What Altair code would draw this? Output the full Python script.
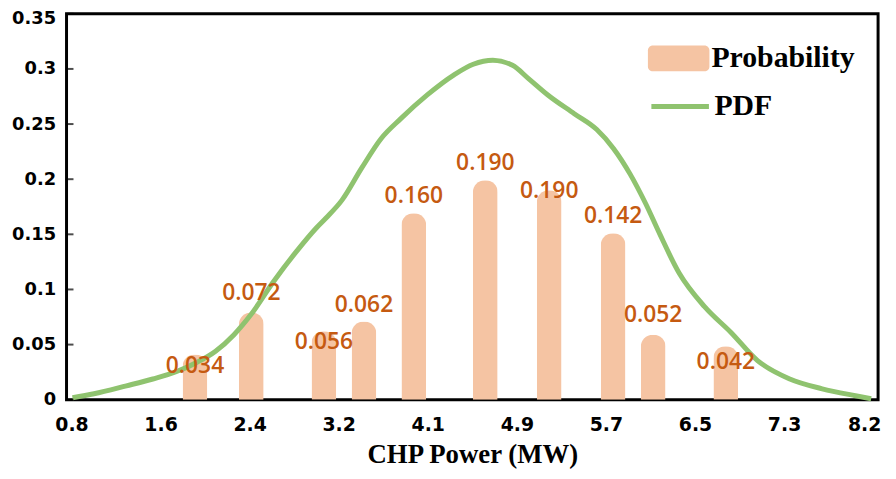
import json
import altair as alt
import pandas as pd

# ---- data ----
tick_labels = ["0.8", "1.6", "2.4", "3.2", "4.1", "4.9", "5.7", "6.5", "7.3", "8.2"]
x_min, x_max = 0.8, 8.2

bar_x = [1.94, 2.46, 3.13, 3.50, 3.96, 4.62, 5.21, 5.80, 6.17, 6.84]
bar_h = [0.041, 0.079, 0.062, 0.071, 0.169, 0.199, 0.190, 0.151, 0.059, 0.0485]
prob_labels = ["0.034", "0.072", "0.056", "0.062", "0.160", "0.190", "0.190", "0.142", "0.052", "0.042"]
label_y = [0.0305, 0.0969, 0.0521, 0.0862, 0.1849, 0.2145, 0.1894, 0.1669, 0.0772, 0.0341]

pdf_x = [0.809, 1.008, 1.307, 1.551, 1.759, 1.96, 2.13, 2.30, 2.455, 2.664, 2.881, 3.062,
         3.152, 3.297, 3.478, 3.659, 3.840, 4.084, 4.328, 4.509, 4.690, 4.871, 5.016, 5.197,
         5.441, 5.649, 5.803, 5.957, 6.101, 6.228, 6.409, 6.644, 6.888, 7.133, 7.431, 7.730,
         8.037, 8.182]
pdf_y = [0.0018, 0.0054, 0.0126, 0.0188, 0.0251, 0.0340, 0.0440, 0.0590, 0.0770, 0.1070, 0.1350, 0.1560,
         0.1650, 0.1810, 0.2100, 0.2369, 0.2549, 0.2764, 0.2944, 0.3042, 0.3078, 0.3033, 0.2915, 0.2764,
         0.2594, 0.2450, 0.2279, 0.2046, 0.1777, 0.1508, 0.1149, 0.0844, 0.0610, 0.0355, 0.0188, 0.0099,
         0.0036, 0.0009]

y_ticks = [0, 0.05, 0.1, 0.15, 0.2, 0.25, 0.3, 0.35]

# ---- tables ----
step = (x_max - x_min) / (len(tick_labels) - 1)
tick_values = [x_min + i * step for i in range(len(tick_labels))]

bars = pd.DataFrame({"x": bar_x, "h": bar_h, "lab": prob_labels, "ly": label_y,
                     "series": "Probability"})
pdf = pd.DataFrame({"x": pdf_x, "y": pdf_y, "series": "PDF"})
yt = pd.DataFrame({"v": y_ticks})

label_expr = f"{json.dumps(tick_labels)}[round((datum.value - {x_min}) / {step})]"

BAR_COLOR = "#F5C4A3"
LINE_COLOR = "#8FC36F"
LABEL_COLOR = "#C55A11"

x_scale = alt.Scale(domain=[x_min, x_max], nice=False, zero=False)
y_scale = alt.Scale(domain=[0, 0.35], nice=False)

x_axis = alt.Axis(values=tick_values, labelExpr=label_expr, title="CHP Power (MW)",
                  grid=False, domain=False, ticks=False,
                  labelFont="DejaVu Sans", labelFontSize=19, labelFontWeight="bold",
                  labelColor="black", labelPadding=16,
                  labelOffset={"condition": {"test": f"datum.value > {x_max - step / 2}",
                                             "value": -9}, "value": 0},
                  titleFont="Liberation Serif", titleFontSize=27, titleFontWeight="bold",
                  titleColor="black", titlePadding=7)
y_axis = alt.Axis(values=y_ticks, format="~g", title=None, grid=False, domain=False,
                  ticks=False, labelFont="DejaVu Sans", labelFontSize=18,
                  labelFontWeight="bold", labelColor="black", labelPadding=11,
                  labelOffset={"condition": {"test": "datum.value > 0.34", "value": 5},
                               "value": 0})

rect_path = ("M-0.84,-0.42 H0.84 A0.16,0.16 0 0 1 1,-0.26 V0.26 A0.16,0.16 0 0 1 0.84,0.42 "
             "H-0.84 A0.16,0.16 0 0 1 -1,0.26 V-0.26 A0.16,0.16 0 0 1 -0.84,-0.42 Z")

bar_layer = alt.Chart(bars).mark_bar(size=25, cornerRadiusTopLeft=12,
                                     cornerRadiusTopRight=12).encode(
    x=alt.X("x:Q", scale=x_scale, axis=x_axis),
    y=alt.Y("h:Q", scale=y_scale, axis=y_axis),
    fill=alt.Fill("series:N", scale=alt.Scale(domain=["Probability"], range=[BAR_COLOR]),
                  legend=alt.Legend(orient="none", legendX=586, legendY=14, title=None,
                                    symbolType=rect_path, symbolSize=3844,
                                    symbolStrokeWidth=0, labelOffset=2, padding=0,
                                    labelFont="Liberation Serif", labelFontSize=30,
                                    labelFontWeight="bold", labelColor="black")),
)

line_layer = alt.Chart(pdf).mark_line(strokeWidth=5, interpolate="monotone").encode(
    x=alt.X("x:Q", scale=x_scale),
    y=alt.Y("y:Q", scale=y_scale),
    stroke=alt.Stroke("series:N", scale=alt.Scale(domain=["PDF"], range=[LINE_COLOR]),
                      legend=alt.Legend(orient="none", legendX=587, legendY=62, title=None,
                                        symbolType="stroke", symbolSize=3364,
                                        symbolStrokeWidth=5, labelOffset=3, padding=0,
                                        labelFont="Liberation Serif", labelFontSize=30,
                                        labelFontWeight="bold", labelColor="black")),
)

text_layer = alt.Chart(bars).mark_text(font="Open Sans", fontSize=23, fontWeight=600,
                                       color=LABEL_COLOR,
                                       align="center", baseline="middle").encode(
    x=alt.X("x:Q", scale=x_scale),
    y=alt.Y("ly:Q", scale=y_scale),
    text="lab:N",
)

tick_layer = alt.Chart(yt).mark_tick(color="black", thickness=2, size=7).encode(
    y=alt.Y("v:Q", scale=y_scale),
    x=alt.value(3.5),
)

chart = alt.layer(bar_layer, line_layer, text_layer, tick_layer).properties(
    width=818, height=389,
    autosize=alt.AutoSizeParams(type="none"),
    padding={"left": 59, "top": 4, "right": 10, "bottom": 69},
    background="white",
).configure_view(stroke="black", strokeWidth=3)

chart.save("out.html", embed_options={"renderer": "svg", "actions": False})
